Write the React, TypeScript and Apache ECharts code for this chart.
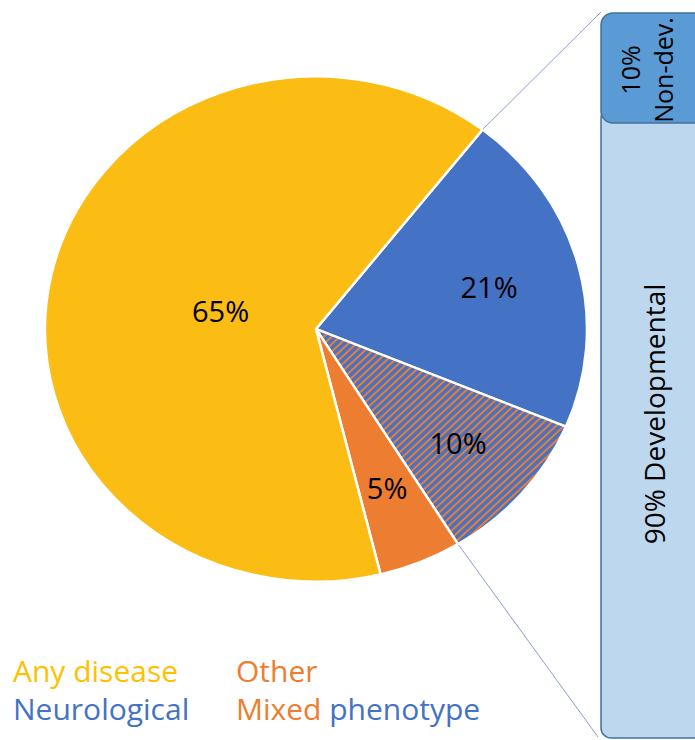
import React, { useEffect, useRef } from 'react';
import * as echarts from 'echarts';

// ---- data ----
const CATEGORIES = ['Neurological', 'Mixed phenotype', 'Other', 'Any disease'];
const VALUES = [21, 10, 5, 65];
const PIE_LABELS = ['21%', '10%', '5%', '65%'];
const BOX_LABELS = ['10%\nNon-dev.', '90% Developmental'];

// ---- styles / layout ----
const YELLOW = '#FBBD13';
const BLUE = '#4472C4';
const ORANGE = '#ED7D31';
const LEGEND_YELLOW = '#FFC000';
const FONT = '"Open Sans", "Noto Sans", sans-serif';

const CX = 316;
const CY = 329;
const R = 271;
const KY = 0.932;
const START = 52.1;
const LABEL_R = [0.66, 0.69, 0.68, 0.36];

const BOX_X = 601;
const TOP_Y = 13;
const SPLIT_Y = 123;
const BOTTOM_Y = 738;

function makeStripes(): any {
  const s = 8;
  const c = document.createElement('canvas');
  c.width = s;
  c.height = s;
  const g = c.getContext('2d')!;
  g.fillStyle = BLUE;
  g.fillRect(0, 0, s, s);
  g.strokeStyle = ORANGE;
  g.lineWidth = 2;
  g.beginPath();
  g.moveTo(-1, s + 1);
  g.lineTo(s + 1, -1);
  g.moveTo(-1, 1);
  g.lineTo(1, -1);
  g.moveTo(s - 1, s + 1);
  g.lineTo(s + 1, s - 1);
  g.stroke();
  return { image: c.toDataURL(), imageWidth: s, imageHeight: s, repeat: 'repeat' };
}

export default function App() {
  const ref = useRef<HTMLDivElement>(null);
  useEffect(() => {
    if (!ref.current) return;
    const chart = echarts.init(ref.current, null, { renderer: 'svg' });
    const stripes = makeStripes();
    const fills = [BLUE, stripes, ORANGE, YELLOW];
    const total = VALUES.reduce((a, b) => a + b, 0);

    const renderItem = (params: any, api: any) => {
      const i = params.dataIndex;
      let before = 0;
      for (let j = 0; j < i; j++) before += VALUES[j];
      const v = Number(api.value(0));
      const startDeg = START - (before / total) * 360;
      const endDeg = startDeg - (v / total) * 360;
      const a0 = (-startDeg * Math.PI) / 180;
      const a1 = (-endDeg * Math.PI) / 180;
      const mid = ((startDeg + endDeg) / 2) * Math.PI / 180;
      const lr = R * LABEL_R[i];
      const children: any[] = [
        {
          type: 'group',
          x: CX,
          y: CY,
          scaleY: KY,
          children: [
            {
              type: 'sector',
              shape: { cx: 0, cy: 0, r: R, r0: 0, startAngle: a0, endAngle: a1, clockwise: true },
              style: { fill: fills[i], stroke: '#ffffff', lineWidth: 2.5 },
            },
          ],
        },
        {
          type: 'text',
          x: CX + lr * Math.cos(mid),
          y: CY - lr * Math.sin(mid) * KY,
          style: {
            text: PIE_LABELS[i],
            fill: '#000000',
            font: `29px ${FONT}`,
            align: 'center',
            verticalAlign: 'middle',
          },
          z2: 10,
        },
      ];
      if (i === 0) {
        const sr = (startDeg * Math.PI) / 180;
        children.push({
          type: 'line',
          shape: { x1: CX + R * Math.cos(sr), y1: CY - R * Math.sin(sr) * KY, x2: BOX_X, y2: TOP_Y - 1 },
          style: { stroke: '#8E9DC6', lineWidth: 1 },
        });
      }
      if (i === 1) {
        const er = (endDeg * Math.PI) / 180;
        children.push({
          type: 'line',
          shape: { x1: CX + R * Math.cos(er), y1: CY - R * Math.sin(er) * KY, x2: BOX_X - 3, y2: BOTTOM_Y - 1 },
          style: { stroke: '#8E9DC6', lineWidth: 1 },
        });
      }
      return { type: 'group', children };
    };

    const legendFont = `30px ${FONT}`;
    chart.setOption({
      animation: false,
      series: [
        {
          type: 'custom',
          coordinateSystem: 'none',
          data: CATEGORIES.map((name, i) => ({ name, value: [VALUES[i]] })),
          renderItem,
        },
      ],
      graphic: [
        {
          type: 'rect',
          shape: { x: BOX_X, y: SPLIT_Y - 15, width: 150, height: BOTTOM_Y - SPLIT_Y + 15, r: 10 },
          style: { fill: '#BDD7EE', stroke: '#41719C', lineWidth: 1.5 },
        },
        {
          type: 'rect',
          shape: { x: BOX_X, y: TOP_Y, width: 150, height: SPLIT_Y - TOP_Y, r: 12 },
          style: { fill: '#5B9BD5', stroke: '#41719C', lineWidth: 1.5 },
        },
        {
          type: 'text',
          x: 646,
          y: 70,
          rotation: Math.PI / 2,
          style: {
            text: BOX_LABELS[0],
            fill: '#000000',
            font: `25px ${FONT}`,
            lineHeight: 33,
            align: 'center',
            verticalAlign: 'middle',
          },
        },
        {
          type: 'text',
          x: 654,
          y: 414,
          rotation: Math.PI / 2,
          style: {
            text: BOX_LABELS[1],
            fill: '#000000',
            font: `28px ${FONT}`,
            align: 'center',
            verticalAlign: 'middle',
          },
        },
        {
          type: 'text',
          x: 13,
          y: 670,
          style: { text: CATEGORIES[3], fill: LEGEND_YELLOW, font: legendFont, verticalAlign: 'middle' },
        },
        {
          type: 'text',
          x: 13,
          y: 708,
          style: { text: CATEGORIES[0], fill: BLUE, font: legendFont, verticalAlign: 'middle' },
        },
        {
          type: 'text',
          x: 236,
          y: 670,
          style: { text: CATEGORIES[2], fill: ORANGE, font: legendFont, verticalAlign: 'middle' },
        },
        {
          type: 'text',
          x: 236,
          y: 708,
          style: {
            text: `{o|${CATEGORIES[1].split(' ')[0]}} {b|${CATEGORIES[1].split(' ')[1]}}`,
            font: legendFont,
            verticalAlign: 'middle',
            rich: {
              o: { fill: ORANGE, font: legendFont },
              b: { fill: BLUE, font: legendFont },
            },
          },
        },
      ],
    });
    return () => chart.dispose();
  }, []);
  return <div ref={ref} style={{ width: 695, height: 740, position: 'absolute', left: 0, top: 0 }} />;
}
